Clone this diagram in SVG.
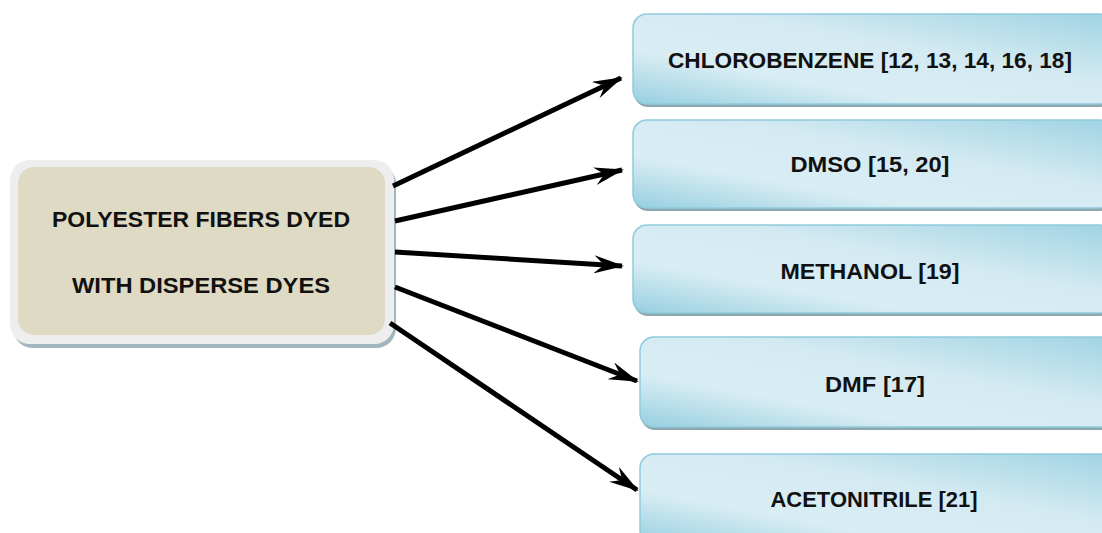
<svg xmlns="http://www.w3.org/2000/svg" width="1102" height="533" viewBox="0 0 1102 533">
<defs>
<linearGradient id="blue" x1="0" y1="1" x2="1" y2="0">
<stop offset="0" stop-color="#97cfe0"/>
<stop offset="0.3" stop-color="#d9edf4"/>
<stop offset="0.6" stop-color="#d4eaf2"/>
<stop offset="1" stop-color="#9fd3e3"/>
</linearGradient>
<marker id="arr" viewBox="0 0 30 18" refX="28" refY="9" markerWidth="30" markerHeight="18" markerUnits="userSpaceOnUse" orient="auto">
<path d="M0,0 L30,9 L0,18 L10,9 Z" fill="#000"/>
</marker>
</defs>
<style>
.shadow{fill:#8ea6ad}
.rbox{fill:url(#blue);stroke:#8ecbdc;stroke-width:1.5}
.txt{font-family:"Liberation Sans",Arial,sans-serif;font-weight:bold;fill:#111;text-anchor:middle;font-size:22px}
.conn{stroke:#000;stroke-width:5;fill:none;marker-end:url(#arr)}
</style>
<rect width="1102" height="533" fill="#fff"/>
<g id="source">
<rect x="13" y="164" width="383" height="184" rx="20" fill="#9fb7bd"/>
<rect x="10" y="160" width="384" height="184" rx="20" fill="#eeeeee"/>
<rect x="18" y="167" width="367" height="168" rx="16" fill="#dedac4"/>
<text class="txt" x="201" y="227" textLength="298" lengthAdjust="spacingAndGlyphs">POLYESTER FIBERS DYED</text>
<text class="txt" x="201" y="293" textLength="258" lengthAdjust="spacingAndGlyphs">WITH DISPERSE DYES</text>
</g>
<g id="n1">
<rect class="shadow" x="634" y="17" width="480" height="90" rx="14"/>
<rect class="rbox" x="633" y="14" width="480" height="90" rx="14"/>
<text class="txt" x="870" y="68" textLength="404" lengthAdjust="spacingAndGlyphs">CHLOROBENZENE [12, 13, 14, 16, 18]</text>
</g>
<g id="n2">
<rect class="shadow" x="634" y="123" width="480" height="88" rx="14"/>
<rect class="rbox" x="633" y="120" width="480" height="88" rx="14"/>
<text class="txt" x="870" y="172" textLength="159" lengthAdjust="spacingAndGlyphs">DMSO [15, 20]</text>
</g>
<g id="n3">
<rect class="shadow" x="634" y="228" width="480" height="88" rx="14"/>
<rect class="rbox" x="633" y="225" width="480" height="88" rx="14"/>
<text class="txt" x="870" y="279" textLength="179" lengthAdjust="spacingAndGlyphs">METHANOL [19]</text>
</g>
<g id="n4">
<rect class="shadow" x="641" y="340" width="480" height="90" rx="14"/>
<rect class="rbox" x="640" y="337" width="480" height="90" rx="14"/>
<text class="txt" x="875" y="392" textLength="100" lengthAdjust="spacingAndGlyphs">DMF [17]</text>
</g>
<g id="n5">
<rect class="shadow" x="641" y="457" width="480" height="90" rx="14"/>
<rect class="rbox" x="640" y="454" width="480" height="90" rx="14"/>
<text class="txt" x="874" y="507" textLength="207" lengthAdjust="spacingAndGlyphs">ACETONITRILE [21]</text>
</g>
<g id="connectors">
<line class="conn" x1="393" y1="186" x2="621" y2="78"/>
<line class="conn" x1="395" y1="221" x2="622" y2="170"/>
<line class="conn" x1="395" y1="252" x2="622" y2="266"/>
<line class="conn" x1="395" y1="287" x2="637" y2="381"/>
<line class="conn" x1="390" y1="323" x2="637" y2="490"/>
</g>
</svg>
